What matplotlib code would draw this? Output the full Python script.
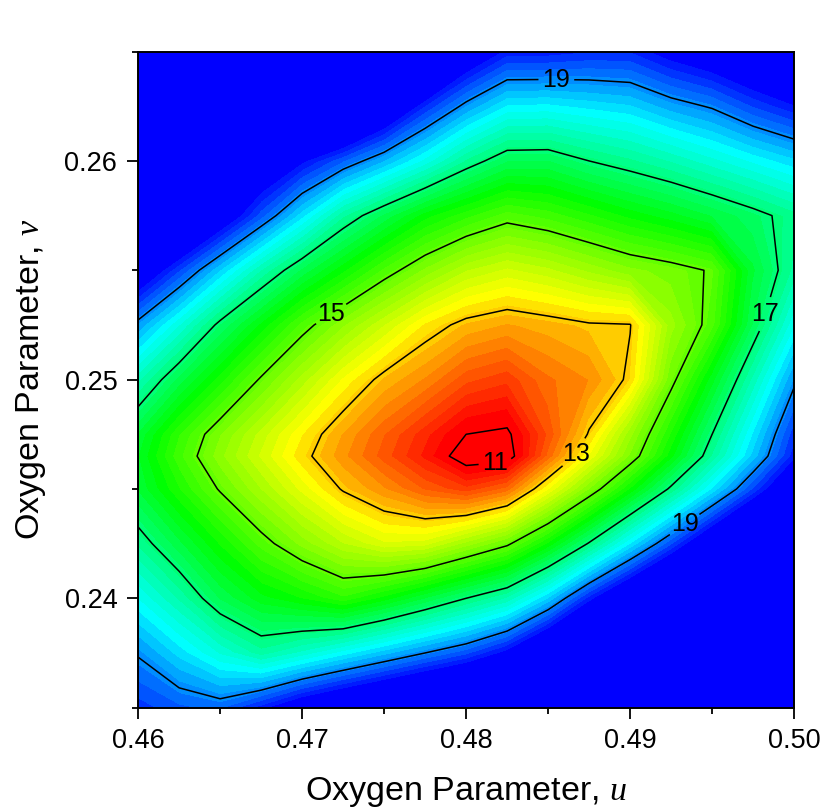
import numpy as np
import matplotlib
matplotlib.use('Agg')
import matplotlib.pyplot as plt
from matplotlib.colors import LinearSegmentedColormap, Normalize
from matplotlib.ticker import MultipleLocator, FormatStrFormatter

plt.rcParams['font.family'] = ['Liberation Sans', 'DejaVu Sans']
plt.rcParams['mathtext.fontset'] = 'custom'
plt.rcParams['mathtext.rm'] = 'Liberation Sans'
plt.rcParams['mathtext.it'] = 'Liberation Serif:italic'

# grid (u across, v down the list)
u_vals = [0.46, 0.4625, 0.465, 0.4675, 0.47, 0.4725, 0.475, 0.4775, 0.48,
          0.4825, 0.485, 0.4875, 0.49, 0.4925, 0.495, 0.4975, 0.50]
v_vals = [0.235, 0.2375, 0.24, 0.2425, 0.245, 0.2465, 0.2475, 0.25, 0.2525,
          0.255, 0.2575, 0.26, 0.2625, 0.265]

r_vals = [
    [19.6, 19.34, 19.22, 19.76, 20.37, 20.8, 21.2, 21.6, 22.0, 22.6, 23.2, 23.8, 24.4, 25.0, 25.6, 26.2, 26.8],
    [18.95, 18.4, 17.86, 17.38, 17.74, 18.16, 18.58, 19.0, 19.4, 20.0, 21.0, 22.0, 23.0, 24.0, 25.0, 26.0, 27.0],
    [18.08, 17.45, 16.66, 16.16, 15.88, 15.53, 15.95, 16.47, 17.0, 17.5, 18.47, 19.74, 20.8, 21.8, 22.8, 23.8, 24.8],
    [17.24, 16.54, 15.86, 15.19, 14.6, 14.09, 13.72, 13.78, 14.33, 14.9, 15.9, 17.05, 18.26, 19.42, 20.6, 21.7, 22.9],
    [16.45, 15.7, 14.95, 14.28, 13.61, 12.95, 12.51, 12.06, 11.75, 12.15, 13.44, 14.66, 15.88, 17.1, 18.29, 19.48, 20.67],
    [16.3, 15.35, 14.55, 13.85, 13.14, 12.55, 11.99, 11.43, 10.7, 10.75, 12.14, 13.49, 14.71, 16.0, 17.3, 18.55, 19.8],
    [16.45, 15.5, 14.7, 14.0, 13.3, 12.67, 12.1, 11.56, 11.0, 10.9, 11.93, 13.05, 14.4, 15.7, 17.0, 18.3, 19.6],
    [17.54, 16.6, 15.77, 14.94, 14.19, 13.45, 12.85, 12.46, 11.95, 11.75, 12.25, 12.5, 13.1, 14.84, 16.19, 17.54, 18.9],
    [18.85, 17.9, 16.87, 16.03, 15.2, 14.52, 13.89, 13.25, 12.85, 12.67, 12.8, 12.95, 12.98, 14.4, 15.2, 16.7, 18.05],
    [20.5, 19.5, 18.48, 17.48, 16.63, 15.93, 15.23, 14.63, 14.1, 13.84, 14.03, 14.33, 14.62, 14.8, 15.05, 16.45, 17.35],
    [22.4, 21.4, 20.4, 19.37, 18.35, 17.33, 16.63, 15.97, 15.55, 15.18, 15.37, 15.65, 15.95, 16.2, 16.5, 16.83, 17.2],
    [22.7, 22.0, 21.3, 20.6, 19.95, 19.3, 18.68, 18.01, 17.25, 16.7, 16.68, 17.0, 17.24, 17.51, 17.82, 18.13, 18.43],
    [26.2, 25.3, 24.4, 23.5, 22.6, 21.7, 20.7, 19.67, 18.87, 18.25, 18.23, 18.35, 18.46, 18.8, 19.05, 19.5, 19.86],
    [29.0, 28.0, 27.0, 26.0, 25.0, 24.0, 22.9, 21.75, 20.5, 19.8, 19.8, 19.7, 19.7, 20.1, 20.4, 20.8, 21.3],
]

line_levels = [11, 13, 15, 17, 19]
label_pos = [(0.4855, 0.2637), (0.4716, 0.2532), (0.4982, 0.2530),
             (0.4867, 0.2466), (0.4818, 0.2461), (0.4933, 0.2434)]

# rainbow palette, value -> colour
pal_vals = [10.6, 11.2, 12.4, 13.4, 16.0, 18.2, 20.0]
pal_cols = ['#ff0000', '#ff0000', '#ff8000', '#ffff00', '#00ff00', '#00ffff', '#0000ff']

vmin, vmax = pal_vals[0], pal_vals[-1]
cmap = LinearSegmentedColormap.from_list(
    'rb', [((p - vmin) / (vmax - vmin), c) for p, c in zip(pal_vals, pal_cols)])
cmap.set_over(pal_cols[-1])
cmap.set_under(pal_cols[0])

U, V = np.meshgrid(u_vals, v_vals)
Z = np.array(r_vals)

fig = plt.figure(figsize=(8.32, 8.10), dpi=100)
ax = fig.add_axes([0.166, 0.1264, 0.7885, 0.8099])

fill_levels = np.arange(10.5, 20.05, 0.2)
ax.contourf(U, V, Z, levels=fill_levels, cmap=cmap,
            norm=Normalize(vmin, vmax), extend='both')
cs = ax.contour(U, V, Z, levels=line_levels, colors='black', linewidths=1.1)
labels = ax.clabel(cs, fmt='%d', fontsize=18, inline=True,
                   inline_spacing=4, manual=label_pos)
for t in labels:
    t.set_rotation(0)

ax.set_xlim(0.46, 0.50)
ax.set_ylim(0.235, 0.265)
ax.xaxis.set_major_locator(MultipleLocator(0.01))
ax.xaxis.set_minor_locator(MultipleLocator(0.005))
ax.yaxis.set_major_locator(MultipleLocator(0.01))
ax.yaxis.set_minor_locator(MultipleLocator(0.005))
ax.xaxis.set_major_formatter(FormatStrFormatter('%.2f'))
ax.yaxis.set_major_formatter(FormatStrFormatter('%.2f'))

ax.tick_params(which='both', direction='out', top=False, right=False,
               width=1.3, labelsize=19.5, pad=7)
ax.tick_params(which='major', length=8)
ax.tick_params(which='minor', length=4.5)
for s in ax.spines.values():
    s.set_linewidth(1.4)

ax.set_xlabel('Oxygen Parameter, $u$', fontsize=24.5, labelpad=15)
ax.set_ylabel('Oxygen Parameter, $v$', fontsize=24.5, labelpad=12)

fig.savefig('out.png', dpi=100)
